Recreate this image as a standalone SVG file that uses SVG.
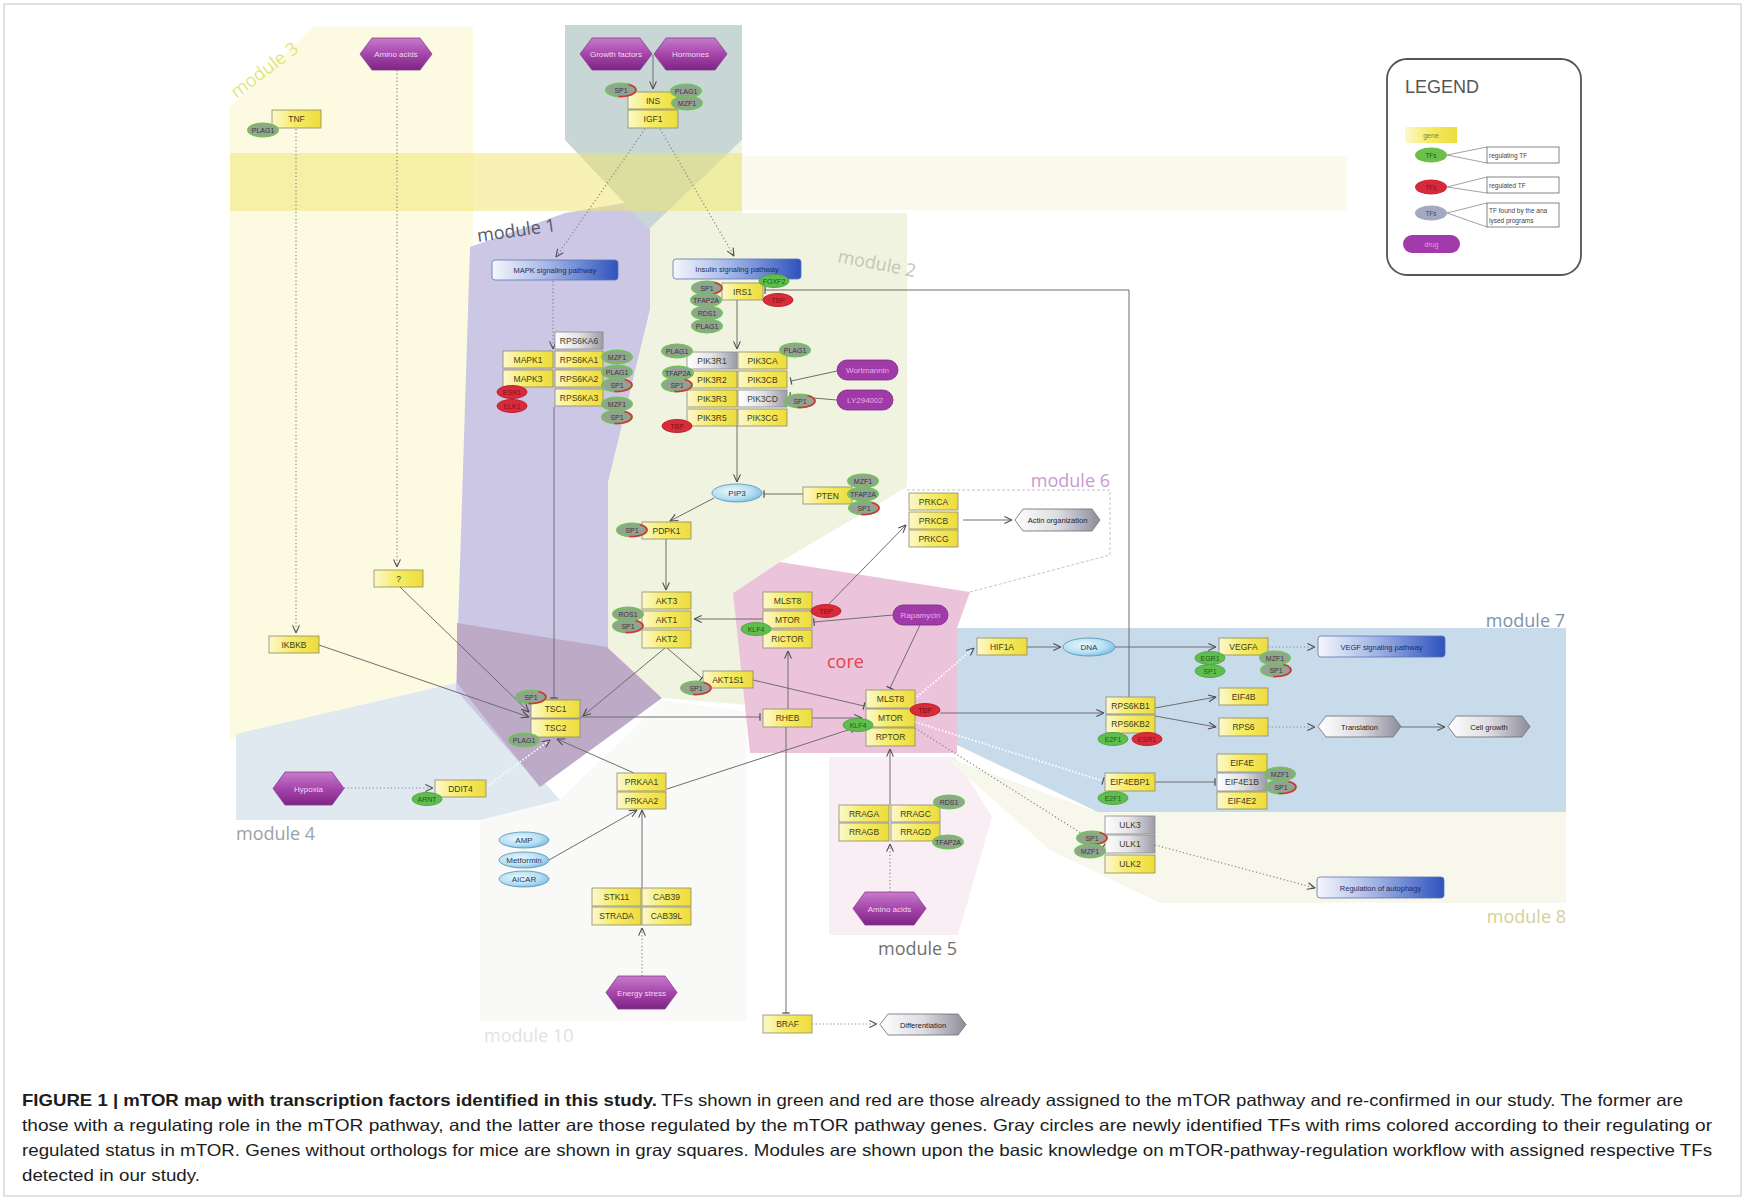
<svg xmlns="http://www.w3.org/2000/svg" width="1745" height="1200" viewBox="0 0 1745 1200">
<defs>
<linearGradient id="gy" x1="0" y1="0" x2="1" y2="0"><stop offset="0" stop-color="#fcf8cf"/><stop offset="0.45" stop-color="#f6ec68"/><stop offset="1" stop-color="#eedc3c"/></linearGradient>
<linearGradient id="gg" x1="0" y1="0" x2="1" y2="0"><stop offset="0" stop-color="#ffffff"/><stop offset="0.5" stop-color="#e2e2e6"/><stop offset="1" stop-color="#9c9ca8"/></linearGradient>
<linearGradient id="gb" x1="0" y1="0" x2="1" y2="0"><stop offset="0" stop-color="#f5f7fc"/><stop offset="0.45" stop-color="#a3b5e6"/><stop offset="1" stop-color="#2f52bd"/></linearGradient>
<linearGradient id="gp" x1="0" y1="0" x2="0" y2="1"><stop offset="0" stop-color="#c67ccb"/><stop offset="0.5" stop-color="#a646ab"/><stop offset="1" stop-color="#7d2483"/></linearGradient>
<linearGradient id="go" x1="0" y1="0" x2="1" y2="0"><stop offset="0" stop-color="#ffffff"/><stop offset="0.5" stop-color="#dcdce2"/><stop offset="1" stop-color="#8d8d9b"/></linearGradient>
<radialGradient id="gs" cx="0.4" cy="0.4" r="0.7"><stop offset="0" stop-color="#eaf7fd"/><stop offset="0.6" stop-color="#b5def3"/><stop offset="1" stop-color="#6fb8e0"/></radialGradient>
<marker id="a" viewBox="0 0 10 10" refX="9.5" refY="5" markerWidth="9" markerHeight="9" markerUnits="userSpaceOnUse" orient="auto"><path d="M1,1.2 L9.5,5 L1,8.8" fill="none" stroke="#4a4a4a" stroke-width="1.2" stroke-dasharray="none"/></marker>
<marker id="b" viewBox="0 0 4 10" refX="2" refY="5" markerWidth="3" markerHeight="10" markerUnits="userSpaceOnUse" orient="auto"><path d="M2,0 V10" stroke="#4a4a4a" stroke-width="1.6" stroke-dasharray="none"/></marker>
</defs>
<style>
text{font-family:"Liberation Sans",Arial,sans-serif}
.gene rect{fill:url(#gy);stroke:#8d8b66;stroke-width:0.8}
.gray rect{fill:url(#gg);stroke:#8a8a8a;stroke-width:0.8}
.gene text,.gray text{font-size:8.5px;fill:#3c3a22;text-anchor:middle}
.tf text{font-size:7px;text-anchor:middle}
.tg ellipse{fill:#5fbe4d;stroke:#51a842;stroke-width:1}
.tg text{fill:#245a18}
.tr ellipse{fill:#d82c3b;stroke:#c01e2e;stroke-width:1}
.tr text{fill:#82101c}
.tn ellipse{fill:#96a196;stroke:#72c05e;stroke-width:2}
.tn text{fill:#2e3e2e}
.ra{fill:none;stroke:#d83038;stroke-width:1.6}
.stim polygon{fill:url(#gp);stroke:#8a3a90;stroke-width:0.8}
.stim text{font-size:8px;fill:#f0daf0;text-anchor:middle}
.path rect{fill:url(#gb);stroke:#5a74b4;stroke-width:0.8}
.path text{font-size:7.5px;fill:#1e2d55;text-anchor:middle}
.mol ellipse{fill:url(#gs);stroke:#5a8fb0;stroke-width:0.8}
.mol text{font-size:8px;fill:#1f3a5a;text-anchor:middle}
.drug rect{fill:#a03aa8;stroke:#7a2a80;stroke-width:0.8}
.drug text{font-size:8px;fill:#e8aee8;text-anchor:middle}
.out polygon{fill:url(#go);stroke:#6a6a72;stroke-width:0.8}
.out text{font-size:7.5px;fill:#222;text-anchor:middle}
.ln{fill:none;stroke:#6e6e6e;stroke-width:1}
.dt{fill:none;stroke:#858585;stroke-width:1.2;stroke-dasharray:1.2 2.4}
.wd{fill:none;stroke:#ffffff;stroke-width:1.8;stroke-dasharray:1.5 2}
.ml{font-family:"Open Sans","Liberation Sans",sans-serif;font-size:18px}
.cap{font-size:16.5px;fill:#1c1c1c}
</style>
<rect width="1745" height="1200" fill="#ffffff"/>
<g id="modules">
<polygon id="m3" points="230,107 313,27 473,27 473,250 457,690 230,740" fill="#fcfbe2"/>
<polygon id="m4" points="236,734 456,683 560,800 560,820 236,820" fill="#dfe9ef"/>
<polygon id="m10" points="480,820 560,800 662,700 747,712 747,1022 480,1022" fill="#f9f9f8"/>
<polyline points="747,712 747,1022 480,1022" fill="none" stroke="#ffffff" stroke-width="1.5" stroke-dasharray="1.5 2"/>
<polygon id="m1" points="470,247 565,213 624,203 650,228 650,310 608,483 608,648 662,696 540,786 456,690" fill="#cdc7e6"/>
<polygon id="m1b" points="457,623 607,647 662,698 540,787 457,683" fill="#bcaac6"/>
<polygon id="mtop" points="565,25 742,25 742,140 650,230 565,140" fill="#c8d6d6"/>
<polygon id="m2" points="650,228 742,140 742,213 907,213 907,487 780,562 733,593 750,705 662,698 608,648 608,483 650,310" fill="#eff3df"/>
<polygon id="m6" points="907,488 1110,490 1110,555 970,592 780,562" fill="#ffffff"/>
<polyline points="907,490 1110,490 1110,555 970,592" fill="none" stroke="#c4c4c4" stroke-width="1" stroke-dasharray="3 2"/>
<polygon id="core" points="733,593 780,562 970,592 957,628 957,753 750,753" fill="#ebc4db"/>
<polygon id="m5" points="829,757 955,757 992,817 958,935 829,935" fill="#f8eef4"/>
<polygon id="m8" points="945,757 1098,812 1566,812 1566,903 1160,903 1050,850" fill="#f8f7ec"/>
<polygon id="m7" points="957,628 1566,628 1566,812 1098,812 957,745" fill="#c8dbeb"/>
<rect x="230" y="153" width="512" height="58" fill="#efe66a" opacity="0.5"/>
<rect x="742" y="156" width="605" height="54" fill="#f3f0c8" opacity="0.35"/>
<text class="ml" transform="translate(268,75) rotate(-37)" text-anchor="middle" fill="#dfe67a" font-size="19">module 3</text>
<text class="ml" transform="translate(478,242) rotate(-8)" fill="#555a6a" font-size="19">module 1</text>
<text class="ml" transform="translate(837,262) rotate(11)" fill="#c4c6b8" font-size="18">module 2</text>
<text class="ml" x="1110" y="487" text-anchor="end" fill="#c79ad0">module 6</text>
<text class="ml" x="1565" y="627" text-anchor="end" fill="#7f92a6">module 7</text>
<text class="ml" x="236" y="840" fill="#9aa2aa">module 4</text>
<text class="ml" x="878" y="955" fill="#707070">module 5</text>
<text class="ml" x="1566" y="923" text-anchor="end" fill="#d6cf98">module 8</text>
<text class="ml" x="484" y="1042" fill="#e2e2e2">module 10</text>
<text class="ml" x="827" y="668" fill="#e2454e" font-size="30">core</text>
</g>
<g id="connectors">
<path class="ln" d="M653,55 V89" marker-end="url(#a)"/>
<path class="dt" d="M645,129 L556,257" marker-end="url(#a)"/>
<path class="dt" d="M660,129 L734,256" marker-end="url(#a)"/>
<path class="dt" d="M296,129 V633" marker-end="url(#a)"/>
<path class="dt" d="M397,70 V567" marker-end="url(#a)"/>
<path class="dt" d="M553,281 V349" marker-end="url(#a)"/>
<path class="ln" d="M554,407 V698" marker-end="url(#b)"/>
<path class="ln" d="M737,300 V349" marker-end="url(#a)"/>
<path class="ln" d="M1129,697 V290 H765" marker-end="url(#b)"/>
<path class="ln" d="M737,426 V482" marker-end="url(#a)"/>
<path class="ln" d="M803,494 H764" marker-end="url(#b)"/>
<path class="ln" d="M837,371 L791,381" marker-end="url(#b)"/>
<path class="ln" d="M837,400 L790,396" marker-end="url(#b)"/>
<path class="ln" d="M714,498 L670,521" marker-end="url(#a)"/>
<path class="ln" d="M666,539 V590" marker-end="url(#a)"/>
<path class="ln" d="M763,619 H694" marker-end="url(#a)"/>
<path class="ln" d="M893,615 L814,622" marker-end="url(#b)"/>
<path class="ln" d="M822,611 L906,525" marker-end="url(#a)"/>
<path class="ln" d="M963,520 H1012" marker-end="url(#a)"/>
<path class="ln" d="M667,648 L702,678" marker-end="url(#b)"/>
<path class="ln" d="M665,648 L583,716" marker-end="url(#a)"/>
<path class="ln" d="M753,680 L864,706" marker-end="url(#b)"/>
<path class="ln" d="M920,625 L890,688" marker-end="url(#b)"/>
<path class="ln" d="M580,717 H760" marker-end="url(#b)"/>
<path class="ln" d="M812,718 H862" marker-end="url(#a)"/>
<path class="ln" d="M788,709 V651" marker-end="url(#a)"/>
<path class="ln" d="M786,727 V1013" marker-end="url(#b)"/>
<path class="dt" d="M812,1024 H877" marker-end="url(#a)"/>
<path class="ln" d="M940,713 H1104" marker-end="url(#a)"/>
<path class="ln" d="M1155,708 L1216,697" marker-end="url(#a)"/>
<path class="ln" d="M1155,716 L1216,727" marker-end="url(#a)"/>
<path class="dt" d="M1268,727 H1315" marker-end="url(#a)"/>
<path class="ln" d="M1401,727 H1445" marker-end="url(#a)"/>
<path class="wd" d="M917,697 L974,648" marker-end="url(#a)"/>
<path class="ln" d="M1027,647 H1061" marker-end="url(#a)"/>
<path class="ln" d="M1115,647 H1216" marker-end="url(#a)"/>
<path class="dt" d="M1268,647 H1315" marker-end="url(#a)"/>
<path class="wd" d="M915,722 L1103,781" marker-end="url(#b)"/>
<path class="ln" d="M1155,782 H1215" marker-end="url(#b)"/>
<path class="dt" d="M915,728 L1103,847" marker-end="url(#b)"/>
<path class="dt" d="M1155,845 L1315,888" marker-end="url(#a)"/>
<path class="ln" d="M890,805 V749" marker-end="url(#a)"/>
<path class="dt" d="M890,892 V844" marker-end="url(#a)"/>
<path class="ln" d="M667,789 L851,729" marker-end="url(#b)"/>
<path class="ln" d="M634,773 L557,739" marker-end="url(#a)"/>
<path class="ln" d="M549,860 L637,810" marker-end="url(#a)"/>
<path class="ln" d="M642,888 V810" marker-end="url(#a)"/>
<path class="dt" d="M642,976 V928" marker-end="url(#a)"/>
<path class="dt" d="M344,788 H433" marker-end="url(#a)"/>
<path class="wd" d="M486,787 L550,740" marker-end="url(#a)"/>
<path class="ln" d="M400,587 L529,712" marker-end="url(#a)"/>
<path class="ln" d="M319,645 L529,717" marker-end="url(#a)"/>
</g>
<g id="stimuli">
<g id="s-aa1" class="stim"><polygon points="360,54 372,38 420,38 432,54 420,70 372,70"/><text x="396" y="57">Amino acids</text></g>
<g id="s-gf" class="stim"><polygon points="580,54 592,38 640,38 652,54 640,70 592,70"/><text x="616" y="57">Growth factors</text></g>
<g id="s-horm" class="stim"><polygon points="654,54 666,38 715,38 727,54 715,70 666,70"/><text x="690.5" y="57">Hormones</text></g>
<g id="s-hyp" class="stim"><polygon points="273,788.5 285,772 332,772 344,788.5 332,805 285,805"/><text x="308.5" y="791.5">Hypoxia</text></g>
<g id="s-energy" class="stim"><polygon points="606,992.5 618,976 665,976 677,992.5 665,1009 618,1009"/><text x="641.5" y="995.5">Energy stress</text></g>
<g id="s-aa2" class="stim"><polygon points="853,908.5 865,892 914,892 926,908.5 914,925 865,925"/><text x="889.5" y="911.5">Amino acids</text></g>
</g>
<g id="pathways">
<g id="p-mapk" class="path"><rect x="492" y="260" width="126" height="20" rx="3"/><text x="555" y="273">MAPK signaling pathway</text></g>
<g id="p-ins" class="path"><rect x="673" y="259" width="128" height="20" rx="3"/><text x="737" y="272">Insulin signaling pathway</text></g>
<g id="p-vegf" class="path"><rect x="1318" y="636" width="127" height="21" rx="3"/><text x="1381.5" y="649.5">VEGF signaling pathway</text></g>
<g id="p-auto" class="path"><rect x="1317" y="877" width="127" height="21" rx="3"/><text x="1380.5" y="890.5">Regulation of autophagy</text></g>
</g>
<g id="outputs">
<g id="o-actin" class="out"><polygon points="1015,520 1023,509 1092,509 1100,520 1092,531 1023,531"/><text x="1057.5" y="523">Actin organization</text></g>
<g id="o-transl" class="out"><polygon points="1318,726.5 1326,716 1393,716 1401,726.5 1393,737 1326,737"/><text x="1359.5" y="729.5">Translation</text></g>
<g id="o-growth" class="out"><polygon points="1448,726.5 1456,716 1522,716 1530,726.5 1522,737 1456,737"/><text x="1489" y="729.5">Cell growth</text></g>
<g id="o-diff" class="out"><polygon points="880,1024.5 888,1014 958,1014 966,1024.5 958,1035 888,1035"/><text x="923" y="1027.5">Differentiation</text></g>
</g>
<g id="molecules">
<g id="m-pip3" class="mol"><ellipse cx="737" cy="493" rx="25" ry="9"/><text x="737" y="496">PIP3</text></g>
<g id="m-dna" class="mol"><ellipse cx="1089" cy="647" rx="26" ry="9"/><text x="1089" y="650">DNA</text></g>
<g id="m-amp" class="mol"><ellipse cx="524" cy="840" rx="25" ry="8"/><text x="524" y="843">AMP</text></g>
<g id="m-metf" class="mol"><ellipse cx="524" cy="860" rx="25" ry="8"/><text x="524" y="863">Metformin</text></g>
<g id="m-aicar" class="mol"><ellipse cx="524" cy="879" rx="25" ry="8"/><text x="524" y="882">AICAR</text></g>
</g>
<g id="drugs">
<g id="d-wort" class="drug"><rect x="837" y="360" width="61" height="20" rx="10"/><text x="867.5" y="373">Wortmannin</text></g>
<g id="d-ly" class="drug"><rect x="837" y="390" width="56" height="20" rx="10"/><text x="865" y="403">LY294002</text></g>
<g id="d-rapa" class="drug"><rect x="893" y="605" width="55" height="20" rx="10"/><text x="920.5" y="618">Rapamycin</text></g>
</g>
<g id="genes">
<g id="g-tnf" class="gene" transform="translate(272,110)"><rect width="49" height="18"/><text x="24.5" y="12">TNF</text></g>
<g id="g-ins" class="gene" transform="translate(628,92)"><rect width="50" height="17"/><text x="25" y="11.5">INS</text></g>
<g id="g-igf1" class="gene" transform="translate(628,110)"><rect width="50" height="18"/><text x="25" y="12">IGF1</text></g>
<g id="g-irs1" class="gene" transform="translate(722,283)"><rect width="41" height="17"/><text x="20.5" y="11.5">IRS1</text></g>
<g id="g-rps6ka6" class="gray" transform="translate(555,332)"><rect width="48" height="17"/><text x="24" y="11.5">RPS6KA6</text></g>
<g id="g-mapk1" class="gene" transform="translate(503,351)"><rect width="50" height="17"/><text x="25" y="11.5">MAPK1</text></g>
<g id="g-rps6ka1" class="gene" transform="translate(555,351)"><rect width="48" height="17"/><text x="24" y="11.5">RPS6KA1</text></g>
<g id="g-mapk3" class="gene" transform="translate(503,370)"><rect width="50" height="17"/><text x="25" y="11.5">MAPK3</text></g>
<g id="g-rps6ka2" class="gene" transform="translate(555,370)"><rect width="48" height="17"/><text x="24" y="11.5">RPS6KA2</text></g>
<g id="g-rps6ka3" class="gene" transform="translate(555,389)"><rect width="48" height="17"/><text x="24" y="11.5">RPS6KA3</text></g>
<g id="g-pik3r1" class="gray" transform="translate(687,352)"><rect width="50" height="17"/><text x="25" y="11.5">PIK3R1</text></g>
<g id="g-pik3ca" class="gene" transform="translate(738,352)"><rect width="49" height="17"/><text x="24.5" y="11.5">PIK3CA</text></g>
<g id="g-pik3r2" class="gene" transform="translate(687,371)"><rect width="50" height="17"/><text x="25" y="11.5">PIK3R2</text></g>
<g id="g-pik3cb" class="gene" transform="translate(738,371)"><rect width="49" height="17"/><text x="24.5" y="11.5">PIK3CB</text></g>
<g id="g-pik3r3" class="gene" transform="translate(687,390)"><rect width="50" height="17"/><text x="25" y="11.5">PIK3R3</text></g>
<g id="g-pik3cd" class="gray" transform="translate(738,390)"><rect width="49" height="17"/><text x="24.5" y="11.5">PIK3CD</text></g>
<g id="g-pik3r5" class="gene" transform="translate(687,409)"><rect width="50" height="17"/><text x="25" y="11.5">PIK3R5</text></g>
<g id="g-pik3cg" class="gene" transform="translate(738,409)"><rect width="49" height="17"/><text x="24.5" y="11.5">PIK3CG</text></g>
<g id="g-pten" class="gene" transform="translate(803,487)"><rect width="49" height="17"/><text x="24.5" y="11.5">PTEN</text></g>
<g id="g-pdpk1" class="gene" transform="translate(642,522)"><rect width="49" height="17"/><text x="24.5" y="11.5">PDPK1</text></g>
<g id="g-akt3" class="gene" transform="translate(642,592)"><rect width="49" height="17"/><text x="24.5" y="11.5">AKT3</text></g>
<g id="g-akt1" class="gene" transform="translate(642,611)"><rect width="49" height="17"/><text x="24.5" y="11.5">AKT1</text></g>
<g id="g-akt2" class="gene" transform="translate(642,630)"><rect width="49" height="18"/><text x="24.5" y="12">AKT2</text></g>
<g id="g-mlst8-c2" class="gene" transform="translate(763,592)"><rect width="49" height="17"/><text x="24.5" y="11.5">MLST8</text></g>
<g id="g-mtor-c2" class="gene" transform="translate(763,611)"><rect width="49" height="17"/><text x="24.5" y="11.5">MTOR</text></g>
<g id="g-rictor" class="gene" transform="translate(763,630)"><rect width="49" height="18"/><text x="24.5" y="12">RICTOR</text></g>
<g id="g-prkca" class="gene" transform="translate(909,493)"><rect width="49" height="17"/><text x="24.5" y="11.5">PRKCA</text></g>
<g id="g-prkcb" class="gene" transform="translate(909,512)"><rect width="49" height="17"/><text x="24.5" y="11.5">PRKCB</text></g>
<g id="g-prkcg" class="gene" transform="translate(909,530)"><rect width="49" height="17"/><text x="24.5" y="11.5">PRKCG</text></g>
<g id="g-akt1s1" class="gene" transform="translate(703,671)"><rect width="50" height="17"/><text x="25" y="11.5">AKT1S1</text></g>
<g id="g-unknown" class="gene" transform="translate(374,570)"><rect width="49" height="17"/><text x="24.5" y="11.5">?</text></g>
<g id="g-ikbkb" class="gene" transform="translate(269,636)"><rect width="50" height="17"/><text x="25" y="11.5">IKBKB</text></g>
<g id="g-tsc1" class="gene" transform="translate(531,700)"><rect width="49" height="18"/><text x="24.5" y="12">TSC1</text></g>
<g id="g-tsc2" class="gene" transform="translate(531,719)"><rect width="49" height="18"/><text x="24.5" y="12">TSC2</text></g>
<g id="g-ddit4" class="gene" transform="translate(435,780)"><rect width="51" height="17"/><text x="25.5" y="11.5">DDIT4</text></g>
<g id="g-prkaa1" class="gene" transform="translate(617,773)"><rect width="49" height="18"/><text x="24.5" y="12">PRKAA1</text></g>
<g id="g-prkaa2" class="gene" transform="translate(617,792)"><rect width="49" height="17"/><text x="24.5" y="11.5">PRKAA2</text></g>
<g id="g-stk11" class="gene" transform="translate(592,888)"><rect width="49" height="18"/><text x="24.5" y="12">STK11</text></g>
<g id="g-cab39" class="gene" transform="translate(642,888)"><rect width="49" height="18"/><text x="24.5" y="12">CAB39</text></g>
<g id="g-strada" class="gene" transform="translate(592,907)"><rect width="49" height="18"/><text x="24.5" y="12">STRADA</text></g>
<g id="g-cab39l" class="gene" transform="translate(642,907)"><rect width="49" height="18"/><text x="24.5" y="12">CAB39L</text></g>
<g id="g-rheb" class="gene" transform="translate(763,709)"><rect width="49" height="18"/><text x="24.5" y="12">RHEB</text></g>
<g id="g-braf" class="gene" transform="translate(763,1015)"><rect width="49" height="18"/><text x="24.5" y="12">BRAF</text></g>
<g id="g-mlst8-c1" class="gene" transform="translate(866,690)"><rect width="49" height="18"/><text x="24.5" y="12">MLST8</text></g>
<g id="g-mtor-c1" class="gene" transform="translate(866,709)"><rect width="49" height="18"/><text x="24.5" y="12">MTOR</text></g>
<g id="g-rptor" class="gene" transform="translate(866,728)"><rect width="49" height="18"/><text x="24.5" y="12">RPTOR</text></g>
<g id="g-rraga" class="gene" transform="translate(839,805)"><rect width="50" height="17"/><text x="25" y="11.5">RRAGA</text></g>
<g id="g-rragc" class="gene" transform="translate(891,805)"><rect width="49" height="17"/><text x="24.5" y="11.5">RRAGC</text></g>
<g id="g-rragb" class="gene" transform="translate(839,823)"><rect width="50" height="18"/><text x="25" y="12">RRAGB</text></g>
<g id="g-rragd" class="gene" transform="translate(891,823)"><rect width="49" height="18"/><text x="24.5" y="12">RRAGD</text></g>
<g id="g-hif1a" class="gene" transform="translate(977,638)"><rect width="50" height="17"/><text x="25" y="11.5">HIF1A</text></g>
<g id="g-vegfa" class="gene" transform="translate(1219,638)"><rect width="49" height="17"/><text x="24.5" y="11.5">VEGFA</text></g>
<g id="g-rps6kb1" class="gene" transform="translate(1106,697)"><rect width="49" height="17"/><text x="24.5" y="11.5">RPS6KB1</text></g>
<g id="g-rps6kb2" class="gene" transform="translate(1106,715)"><rect width="49" height="18"/><text x="24.5" y="12">RPS6KB2</text></g>
<g id="g-eif4b" class="gene" transform="translate(1219,688)"><rect width="49" height="17"/><text x="24.5" y="11.5">EIF4B</text></g>
<g id="g-rps6" class="gene" transform="translate(1219,718)"><rect width="49" height="18"/><text x="24.5" y="12">RPS6</text></g>
<g id="g-eif4ebp1" class="gene" transform="translate(1105,773)"><rect width="50" height="18"/><text x="25" y="12">EIF4EBP1</text></g>
<g id="g-eif4e" class="gene" transform="translate(1217,754)"><rect width="50" height="18"/><text x="25" y="12">EIF4E</text></g>
<g id="g-eif4e1b" class="gray" transform="translate(1217,773)"><rect width="50" height="18"/><text x="25" y="12">EIF4E1B</text></g>
<g id="g-eif4e2" class="gene" transform="translate(1217,792)"><rect width="50" height="17"/><text x="25" y="11.5">EIF4E2</text></g>
<g id="g-ulk3" class="gray" transform="translate(1105,816)"><rect width="50" height="18"/><text x="25" y="12">ULK3</text></g>
<g id="g-ulk1" class="gray" transform="translate(1105,835)"><rect width="50" height="18"/><text x="25" y="12">ULK1</text></g>
<g id="g-ulk2" class="gene" transform="translate(1105,855)"><rect width="50" height="18"/><text x="25" y="12">ULK2</text></g>
</g>
<g id="tfs">
<g id="tf01" class="tf tn" transform="translate(621,90)"><ellipse rx="15" ry="6.5"/><path class="ra" d="M7.5,-5.6a15,6.5 0 0 1-10.1,12"/><text y="2.5">SP1</text></g>
<g id="tf02" class="tf tn" transform="translate(686,91)"><ellipse rx="15" ry="6.5"/><text y="2.5">PLAG1</text></g>
<g id="tf03" class="tf tn" transform="translate(687,103)"><ellipse rx="15" ry="6.5"/><text y="2.5">MZF1</text></g>
<g id="tf04" class="tf tn" transform="translate(263,130)"><ellipse rx="15" ry="6.5"/><text y="2.5">PLAG1</text></g>
<g id="tf05" class="tf tn" transform="translate(707,288)"><ellipse rx="15" ry="6.5"/><path class="ra" d="M7.5,-5.6a15,6.5 0 0 1-10.1,12"/><text y="2.5">SP1</text></g>
<g id="tf06" class="tf tn" transform="translate(706,300)"><ellipse rx="15" ry="6.5"/><text y="2.5">TFAP2A</text></g>
<g id="tf07" class="tf tn" transform="translate(707,313)"><ellipse rx="15" ry="6.5"/><text y="2.5">RDS1</text></g>
<g id="tf08" class="tf tn" transform="translate(707,326)"><ellipse rx="15" ry="6.5"/><text y="2.5">PLAG1</text></g>
<g id="tf09" class="tf tg" transform="translate(774,281)"><ellipse rx="15" ry="6.5"/><text y="2.5">FOXF2</text></g>
<g id="tf10" class="tf tr" transform="translate(778,300)"><ellipse rx="15" ry="6.5"/><text y="2.5">TBP</text></g>
<g id="tf11" class="tf tn" transform="translate(617,357)"><ellipse rx="15" ry="6.5"/><text y="2.5">MZF1</text></g>
<g id="tf12" class="tf tn" transform="translate(617,372)"><ellipse rx="15" ry="6.5"/><text y="2.5">PLAG1</text></g>
<g id="tf13" class="tf tn" transform="translate(617,385)"><ellipse rx="15" ry="6.5"/><path class="ra" d="M7.5,-5.6a15,6.5 0 0 1-10.1,12"/><text y="2.5">SP1</text></g>
<g id="tf14" class="tf tn" transform="translate(617,404)"><ellipse rx="15" ry="6.5"/><text y="2.5">MZF1</text></g>
<g id="tf15" class="tf tn" transform="translate(617,417)"><ellipse rx="15" ry="6.5"/><path class="ra" d="M7.5,-5.6a15,6.5 0 0 1-10.1,12"/><text y="2.5">SP1</text></g>
<g id="tf16" class="tf tr" transform="translate(512,392)"><ellipse rx="15" ry="6.5"/><text y="2.5">ESR1</text></g>
<g id="tf17" class="tf tr" transform="translate(512,406)"><ellipse rx="15" ry="6.5"/><text y="2.5">ELK1</text></g>
<g id="tf18" class="tf tn" transform="translate(677,351)"><ellipse rx="15" ry="6.5"/><text y="2.5">PLAG1</text></g>
<g id="tf19" class="tf tn" transform="translate(795,350)"><ellipse rx="15" ry="6.5"/><text y="2.5">PLAG1</text></g>
<g id="tf20" class="tf tn" transform="translate(678,373)"><ellipse rx="15" ry="6.5"/><text y="2.5">TFAP2A</text></g>
<g id="tf21" class="tf tn" transform="translate(677,385)"><ellipse rx="15" ry="6.5"/><path class="ra" d="M7.5,-5.6a15,6.5 0 0 1-10.1,12"/><text y="2.5">SP1</text></g>
<g id="tf22" class="tf tr" transform="translate(677,426)"><ellipse rx="15" ry="6.5"/><text y="2.5">TBP</text></g>
<g id="tf23" class="tf tn" transform="translate(800,401)"><ellipse rx="15" ry="6.5"/><path class="ra" d="M7.5,-5.6a15,6.5 0 0 1-10.1,12"/><text y="2.5">SP1</text></g>
<g id="tf24" class="tf tn" transform="translate(863,481)"><ellipse rx="15" ry="6.5"/><text y="2.5">MZF1</text></g>
<g id="tf25" class="tf tn" transform="translate(863,494)"><ellipse rx="15" ry="6.5"/><text y="2.5">TFAP2A</text></g>
<g id="tf26" class="tf tn" transform="translate(864,508)"><ellipse rx="15" ry="6.5"/><path class="ra" d="M7.5,-5.6a15,6.5 0 0 1-10.1,12"/><text y="2.5">SP1</text></g>
<g id="tf27" class="tf tn" transform="translate(632,530)"><ellipse rx="15" ry="6.5"/><path class="ra" d="M7.5,-5.6a15,6.5 0 0 1-10.1,12"/><text y="2.5">SP1</text></g>
<g id="tf28" class="tf tn" transform="translate(628,614)"><ellipse rx="15" ry="6.5"/><text y="2.5">ROS1</text></g>
<g id="tf29" class="tf tn" transform="translate(628,626)"><ellipse rx="15" ry="6.5"/><path class="ra" d="M7.5,-5.6a15,6.5 0 0 1-10.1,12"/><text y="2.5">SP1</text></g>
<g id="tf30" class="tf tg" transform="translate(756,629)"><ellipse rx="15" ry="6.5"/><text y="2.5">KLF4</text></g>
<g id="tf31" class="tf tr" transform="translate(826,611)"><ellipse rx="15" ry="6.5"/><text y="2.5">TBP</text></g>
<g id="tf32" class="tf tn" transform="translate(696,688)"><ellipse rx="15" ry="6.5"/><path class="ra" d="M7.5,-5.6a15,6.5 0 0 1-10.1,12"/><text y="2.5">SP1</text></g>
<g id="tf33" class="tf tn" transform="translate(531,697)"><ellipse rx="15" ry="6.5"/><path class="ra" d="M7.5,-5.6a15,6.5 0 0 1-10.1,12"/><text y="2.5">SP1</text></g>
<g id="tf34" class="tf tn" transform="translate(524,740)"><ellipse rx="15" ry="6.5"/><text y="2.5">PLAG1</text></g>
<g id="tf35" class="tf tg" transform="translate(427,799)"><ellipse rx="15" ry="6.5"/><text y="2.5">ARNT</text></g>
<g id="tf36" class="tf tr" transform="translate(925,710)"><ellipse rx="15" ry="6.5"/><text y="2.5">TBP</text></g>
<g id="tf37" class="tf tg" transform="translate(858,725)"><ellipse rx="15" ry="6.5"/><text y="2.5">KLF4</text></g>
<g id="tf38" class="tf tg" transform="translate(1113,739)"><ellipse rx="15" ry="6.5"/><text y="2.5">E2F1</text></g>
<g id="tf39" class="tf tr" transform="translate(1147,739)"><ellipse rx="15" ry="6.5"/><text y="2.5">ESR1</text></g>
<g id="tf40" class="tf tg" transform="translate(1210,658)"><ellipse rx="15" ry="6.5"/><text y="2.5">EGR1</text></g>
<g id="tf41" class="tf tg" transform="translate(1210,671)"><ellipse rx="15" ry="6.5"/><text y="2.5">SP1</text></g>
<g id="tf42" class="tf tn" transform="translate(1275,658)"><ellipse rx="15" ry="6.5"/><text y="2.5">MZF1</text></g>
<g id="tf43" class="tf tn" transform="translate(1276,670)"><ellipse rx="15" ry="6.5"/><path class="ra" d="M7.5,-5.6a15,6.5 0 0 1-10.1,12"/><text y="2.5">SP1</text></g>
<g id="tf44" class="tf tg" transform="translate(1113,798)"><ellipse rx="15" ry="6.5"/><text y="2.5">E2F1</text></g>
<g id="tf45" class="tf tn" transform="translate(1280,774)"><ellipse rx="15" ry="6.5"/><text y="2.5">MZF1</text></g>
<g id="tf46" class="tf tn" transform="translate(1281,787)"><ellipse rx="15" ry="6.5"/><path class="ra" d="M7.5,-5.6a15,6.5 0 0 1-10.1,12"/><text y="2.5">SP1</text></g>
<g id="tf47" class="tf tn" transform="translate(1092,838)"><ellipse rx="15" ry="6.5"/><path class="ra" d="M7.5,-5.6a15,6.5 0 0 1-10.1,12"/><text y="2.5">SP1</text></g>
<g id="tf48" class="tf tn" transform="translate(1090,851)"><ellipse rx="15" ry="6.5"/><text y="2.5">MZF1</text></g>
<g id="tf49" class="tf tn" transform="translate(949,802)"><ellipse rx="15" ry="6.5"/><text y="2.5">RDS1</text></g>
<g id="tf50" class="tf tn" transform="translate(948,842)"><ellipse rx="15" ry="6.5"/><text y="2.5">TFAP2A</text></g>
</g>
<g id="legend">
<rect x="1387" y="59" width="194" height="216" rx="20" fill="#ffffff" stroke="#555555" stroke-width="1.8"/>
<text x="1405" y="93" font-family="Open Sans, Liberation Sans, sans-serif" font-size="18" fill="#555555">LEGEND</text>
<rect x="1405" y="127" width="52" height="16" fill="url(#gy)"/>
<text x="1431" y="138" font-size="7" fill="#8a7a40" text-anchor="middle">gene</text>
<g stroke="#8a8a8a" stroke-width="0.8" fill="none">
<path d="M1447,155 L1487,147 M1447,155 L1487,163 M1447,187 L1487,177 M1447,187 L1487,193 M1447,213 L1487,203 M1447,213 L1487,227"/>
</g>
<ellipse cx="1431" cy="155" rx="16" ry="7.5" fill="#6cc04a"/>
<text x="1431" y="157.5" font-size="6.5" fill="#2a5a1c" text-anchor="middle">TFs</text>
<ellipse cx="1431" cy="187" rx="16" ry="7.5" fill="#d42a3c"/>
<text x="1431" y="189.5" font-size="6.5" fill="#82101c" text-anchor="middle">TFs</text>
<ellipse cx="1431" cy="213" rx="16" ry="7.5" fill="#a4a8c0"/>
<text x="1431" y="215.5" font-size="6.5" fill="#4a4a5a" text-anchor="middle">TFs</text>
<g fill="#ffffff" stroke="#666666" stroke-width="0.8">
<rect x="1487" y="147" width="72" height="16"/>
<rect x="1487" y="177" width="72" height="16"/>
<rect x="1487" y="203" width="72" height="24"/>
</g>
<g font-size="6.5" fill="#444444">
<text x="1489" y="157.5">regulating TF</text>
<text x="1489" y="187.5">regulated TF</text>
<text x="1489" y="212.5">TF found by the ana</text>
<text x="1489" y="222.5">lysed programs</text>
</g>
<rect x="1403" y="235" width="57" height="18" rx="9" fill="#a33aab"/>
<text x="1431.5" y="247" font-size="7" fill="#e0a0e0" text-anchor="middle">drug</text>
</g>
<g id="caption">
<text class="cap" x="22" y="1106" font-weight="bold" fill="#111" textLength="635" lengthAdjust="spacingAndGlyphs">FIGURE 1 | mTOR map with transcription factors identified in this study.</text>
<text class="cap" x="661" y="1106" textLength="1022" lengthAdjust="spacingAndGlyphs">TFs shown in green and red are those already assigned to the mTOR pathway and re-confirmed in our study. The former are</text>
<text class="cap" x="22" y="1131" textLength="1690" lengthAdjust="spacingAndGlyphs">those with a regulating role in the mTOR pathway, and the latter are those regulated by the mTOR pathway genes. Gray circles are newly identified TFs with rims colored according to their regulating or</text>
<text class="cap" x="22" y="1156" textLength="1690" lengthAdjust="spacingAndGlyphs">regulated status in mTOR. Genes without orthologs for mice are shown in gray squares. Modules are shown upon the basic knowledge on mTOR-pathway-regulation workflow with assigned respective TFs</text>
<text class="cap" x="22" y="1181" textLength="178" lengthAdjust="spacingAndGlyphs">detected in our study.</text>
</g>
<rect x="4" y="4" width="1737" height="1192" fill="none" stroke="#c4c4c4" stroke-width="1"/>
</svg>
